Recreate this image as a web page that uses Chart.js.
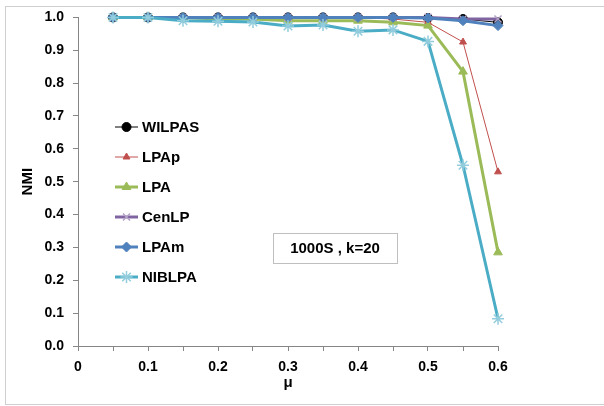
<!DOCTYPE html>
<html>
<head>
<meta charset="utf-8">
<script src="https://cdn.jsdelivr.net/npm/chart.js@4.4.0/dist/chart.umd.min.js"></script>
<style>
  body { margin: 0; background: #fff; }
  #wrap { position: relative; width: 604px; height: 406px; overflow: hidden; }
  #frame { position: absolute; left: 5px; top: 6px; width: 610px; height: 397px;
           border: 1px solid #cfcfcf; }
  #c { position: absolute; left: 0; top: 0; }
</style>
</head>
<body>
<div id="wrap">
  <div id="frame"></div>
  <canvas id="c" width="604" height="406"></canvas>
</div>
<script>
// mu values (x axis)
var mu = [0.05, 0.1, 0.15, 0.2, 0.25, 0.3, 0.35, 0.4, 0.45, 0.5, 0.55, 0.6];

// NMI values
var wilpas = [1.0, 1.0, 1.0, 1.0, 1.0, 1.0, 1.0, 1.0, 1.0, 0.998, 0.995, 0.985];
var lpap   = [1.0, 1.0, 1.0, 1.0, 1.0, 1.0, 1.0, 1.0, 0.995, 0.985, 0.925, 0.53];
var lpa    = [1.0, 1.0, 1.0, 0.995, 0.995, 0.99, 0.99, 0.99, 0.985, 0.975, 0.835, 0.285];
var cenlp  = [1.0, 1.0, 1.0, 1.0, 1.0, 1.0, 1.0, 1.0, 1.0, 1.0, 0.995, 0.995];
var lpam   = [1.0, 1.0, 1.0, 1.0, 1.0, 1.0, 1.0, 1.0, 1.0, 0.998, 0.99, 0.975];
var niblpa = [1.0, 1.0, 0.99, 0.988, 0.986, 0.974, 0.977, 0.958, 0.962, 0.927, 0.55, 0.083];

var seriesNames = ['WILPAS', 'LPAp', 'LPA', 'CenLP', 'LPAm', 'NIBLPA'];
var noteText = '1000S , k=20';

var FONT = 'Liberation Sans, Arial, sans-serif';

function pts(vals) {
    return mu.map(function (m, i) { return { x: m, y: vals[i] }; });
}

function serie(i, vals, line, lw, style, fill, stroke, r, ord) {
    return {
        label: seriesNames[i],
        data: pts(vals),
        borderColor: line,
        borderWidth: lw,
        pointStyle: style,
        pointBackgroundColor: fill,
        pointBorderColor: stroke,
        pointBorderWidth: style === 'star' || style === 'crossRot' ? 1.5 : 1,
        pointRadius: r,
        pointHoverRadius: r,
        tension: 0,
        fill: false,
        clip: false,
        order: ord
    };
}

// legend + text box drawn inside the plot
var insidePlugin = {
    id: 'inside',
    afterDraw: function (chart) {
        var ctx = chart.ctx;
        var a = chart.chartArea;
        var x0 = a.left + 37, y0 = 127, step = 30;
        ctx.save();
        chart.data.datasets.forEach(function (ds, i) {
            var y = y0 + i * step;
            ctx.strokeStyle = ds.borderColor;
            ctx.lineWidth = ds.borderWidth;
            ctx.beginPath();
            ctx.moveTo(x0, y);
            ctx.lineTo(x0 + 23, y);
            ctx.stroke();
            ctx.fillStyle = ds.pointBackgroundColor;
            ctx.strokeStyle = ds.pointBorderColor;
            ctx.lineWidth = ds.pointBorderWidth;
            Chart.helpers.drawPoint(ctx, {
                pointStyle: ds.pointStyle, radius: ds.pointRadius, rotation: 0,
                borderWidth: ds.pointBorderWidth
            }, x0 + 11.5, y);
            ctx.fillStyle = '#000';
            ctx.font = 'bold 15px ' + FONT;
            ctx.textAlign = 'left';
            ctx.textBaseline = 'middle';
            ctx.fillText(ds.label, x0 + 27, y + 1);
        });

        // text box
        var bx = a.left + 195, by = 233, bw = 124, bh = 30;
        ctx.fillStyle = '#fff';
        ctx.fillRect(bx, by, bw, bh);
        ctx.strokeStyle = '#bfbfbf';
        ctx.lineWidth = 1;
        ctx.strokeRect(bx + 0.5, by + 0.5, bw, bh);
        ctx.fillStyle = '#000';
        ctx.font = 'bold 15px ' + FONT;
        ctx.textAlign = 'center';
        ctx.textBaseline = 'middle';
        ctx.fillText(noteText, bx + bw / 2, by + bh / 2 + 1);
        ctx.restore();
    }
};

new Chart(document.getElementById('c'), {
    type: 'line',
    data: {
        datasets: [
            serie(0, wilpas, '#000000', 1, 'circle', '#000000', '#000000', 4.5, 6),
            serie(1, lpap, '#C0504D', 1, 'triangle', '#C0504D', '#C0504D', 4, 5),
            serie(2, lpa, '#9BBB59', 3, 'triangle', '#9BBB59', '#9BBB59', 5, 4),
            serie(3, cenlp, '#8064A2', 3, 'crossRot', '#B3A2C7', '#B3A2C7', 5, 3),
            serie(4, lpam, '#4F81BD', 3, 'rectRot', '#4F81BD', '#4F81BD', 5, 2),
            serie(5, niblpa, '#4BACC6', 3, 'star', '#93CDDD', '#93CDDD', 6, 1)
        ]
    },
    options: {
        responsive: false,
        animation: false,
        layout: { padding: { top: 16, right: 106, left: 0, bottom: 0 } },
        plugins: {
            legend: { display: false },
            tooltip: { enabled: false }
        },
        scales: {
            x: {
                type: 'linear',
                min: 0,
                max: 0.6,
                afterFit: function (s) { s.height = 60; },
                grid: { drawOnChartArea: false, drawTicks: true, tickLength: 5, color: '#868686' },
                border: { display: true, color: '#868686', width: 1 },
                ticks: {
                    stepSize: 0.05,
                    autoSkip: false,
                    maxRotation: 0,
                    padding: 8,
                    color: '#000',
                    font: { family: FONT, size: 14, weight: 'bold' },
                    callback: function (v) {
                        var k = Math.round(v * 20);
                        if (k % 2 !== 0) return '';
                        return k === 0 ? '0' : (k / 20).toFixed(1);
                    }
                },
                title: {
                    display: true,
                    text: 'μ',
                    color: '#000',
                    font: { family: FONT, size: 15, weight: 'bold' },
                    padding: { top: 0, bottom: 14 }
                }
            },
            y: {
                min: 0,
                max: 1,
                afterFit: function (s) { s.width = 78; },
                grid: { drawOnChartArea: false, drawTicks: true, tickLength: 5, color: '#868686' },
                border: { display: true, color: '#868686', width: 1 },
                ticks: {
                    stepSize: 0.1,
                    padding: 9,
                    color: '#000',
                    font: { family: FONT, size: 14, weight: 'bold' },
                    callback: function (v) { return v.toFixed(1); }
                },
                title: {
                    display: true,
                    text: 'NMI',
                    color: '#000',
                    font: { family: FONT, size: 15, weight: 'bold' },
                    padding: { top: 19, bottom: 0 }
                }
            }
        }
    },
    plugins: [insidePlugin]
});
</script>
</body>
</html>
